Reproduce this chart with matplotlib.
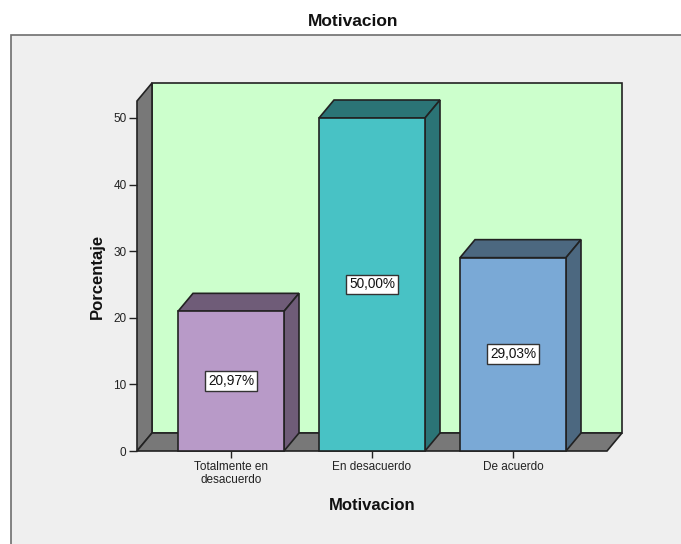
import matplotlib
matplotlib.use("Agg")
import matplotlib.pyplot as plt
from matplotlib.patches import Polygon, Rectangle

categories = ["Totalmente en\ndesacuerdo", "En desacuerdo", "De acuerdo"]
values = [20.97, 50.00, 29.03]
front_colors = ["#b89ac8", "#48c2c5", "#7aa9d6"]
side_colors = ["#6f5c78", "#2b7476", "#4c6880"]
y_ticks = [0, 10, 20, 30, 40, 50]

wall_color = "#ccffcc"
floor_color = "#787878"
panel_color = "#efefef"
edge_color = "#222222"

plt.rcParams["font.family"] = ["Liberation Sans", "DejaVu Sans"]

W, H = 681, 544
fig = plt.figure(figsize=(W / 100, H / 100), dpi=100, facecolor="white")

# grey panel behind the chart, open on the right and bottom
fig.patches.append(Rectangle((11 / W, -0.05), 1.05, (H - 35) / H + 0.05, transform=fig.transFigure,
                             facecolor=panel_color, edgecolor="#6e6e6e", linewidth=1.2, zorder=-1))

ax = fig.add_axes([137 / W, (H - 451) / H, (622 - 137) / W, (451 - 83) / H])
ax.set_facecolor("none")
for s in ax.spines.values():
    s.set_visible(False)

step = 141.0
unit = 6.66
x0 = -94 / step
x1 = x0 + 485 / step
y1 = 368 / unit
ax.set_xlim(x0, x1)
ax.set_ylim(0, y1)

# depth offset of the 3d effect, in data units
dx = 15 / step
dy = 18 / unit
bar_w = 106 / step
top = y1 - dy


def face(pts, color, z=1, lw=1.2):
    ax.add_patch(Polygon(pts, closed=True, facecolor=color, edgecolor=edge_color,
                         linewidth=lw, joinstyle="miter", zorder=z, clip_on=False))


# back wall, left wall, floor
face([(x0 + dx, dy), (x1, dy), (x1, y1), (x0 + dx, y1)], wall_color)
face([(x0, 0), (x0 + dx, dy), (x0 + dx, y1), (x0, top)], floor_color)
face([(x0, 0), (x1 - dx, 0), (x1, dy), (x0 + dx, dy)], floor_color)

for i, v in enumerate(values):
    l = i - bar_w / 2
    r = i + bar_w / 2
    face([(l, v), (r, v), (r + dx, v + dy), (l + dx, v + dy)], side_colors[i], z=3)
    face([(r, 0), (r + dx, dy), (r + dx, v + dy), (r, v)], side_colors[i], z=3)
    face([(l, 0), (r, 0), (r, v), (l, v)], front_colors[i], z=4)
    ax.text(i, v / 2, f"{v:.2f}%".replace(".", ","), ha="center", va="center", fontsize=9.8,
            color="#111111", zorder=5,
            bbox=dict(boxstyle="square,pad=0.22", facecolor="white", edgecolor="#333333", linewidth=1))

ax.set_xticks(range(len(categories)))
ax.set_xticklabels(categories, fontsize=8.5, color="#222222", linespacing=1.1)
ax.set_yticks(y_ticks)
ax.tick_params(axis="x", length=5, width=1, color="#222222", pad=2)
ax.tick_params(axis="y", length=6, width=1, color="#222222", pad=1.5, labelsize=8.5, labelcolor="#222222")

fig.text(372 / W, 1 - 505 / H, "Motivacion", ha="center", va="center", fontsize=12, fontweight="bold", color="#111111")
fig.text(97 / W, 1 - 276 / H, "Porcentaje", ha="center", va="center", rotation=90, fontsize=12, fontweight="bold", color="#111111")
fig.text(353 / W, 1 - 21 / H, "Motivacion", ha="center", va="center", fontsize=12.5, fontweight="bold", color="#111111")

fig.savefig("out.png", dpi=100, facecolor="white")
